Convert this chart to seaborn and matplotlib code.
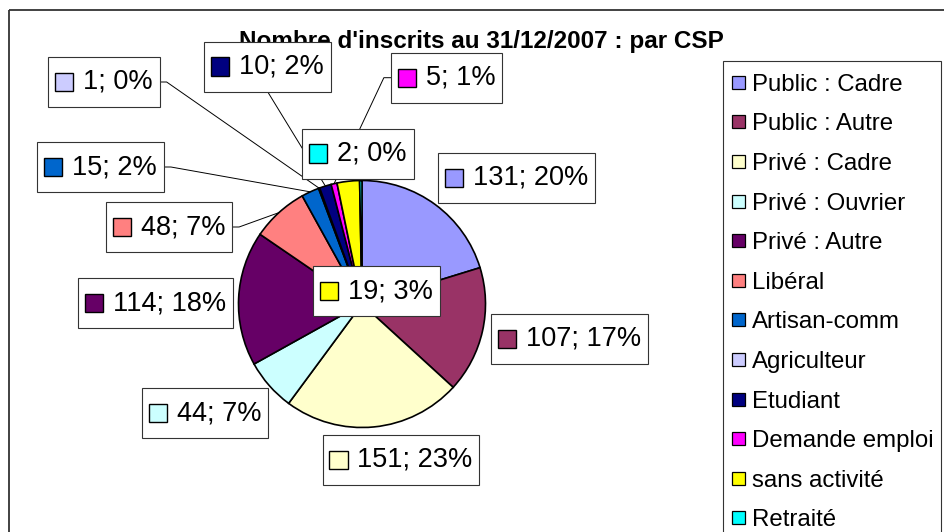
import matplotlib
matplotlib.use("Agg")
import matplotlib.pyplot as plt
import numpy as np
import seaborn as sns
from matplotlib.patches import Rectangle
from matplotlib.offsetbox import AnnotationBbox, HPacker, TextArea, DrawingArea

sns.set_theme(style="white")
plt.rcParams["font.family"] = ["Liberation Sans", "DejaVu Sans"]

# --- data -------------------------------------------------------------
title = "Nombre d'inscrits au 31/12/2007 : par CSP"
categories = ["Public : Cadre", "Public : Autre", "Privé : Cadre", "Privé : Ouvrier",
              "Privé : Autre", "Libéral", "Artisan-comm", "Agriculteur", "Etudiant",
              "Demande emploi", "sans activité", "Retraité"]
counts = [131, 107, 151, 44, 114, 48, 15, 1, 10, 5, 19, 2]
colors = ["#9999FF", "#993366", "#FFFFCC", "#CCFFFF", "#660066", "#FF8080",
          "#0066CC", "#CCCCFF", "#000080", "#FF00FF", "#FFFF00", "#00FFFF"]

# --- layout (pixel coordinates, origin top-left) -----------------------
W, H = 944, 532
pie_center = (362, 304)
pie_radius = 123.5
label_centers = [(516.5, 178), (569.5, 338.7), (401, 460), (205, 413),
                 (155.7, 303), (169, 227), (100.7, 167), (104, 82),
                 (267.5, 66.5), (446.5, 77.7), (376.5, 291), (358, 153.5)]
# side of the label box where a leader line leaves ("" = no leader)
leader_side = ["", "", "", "", "", "right", "right", "right", "bottom", "left", "", ""]


def Y(y):
    return H - y


fig = plt.figure(figsize=(W / 100, H / 100), dpi=100)
ax = fig.add_axes([0, 0, 1, 1])

palette = sns.color_palette(colors)
wedges, _ = ax.pie(counts, colors=palette, startangle=90, counterclock=False,
                   center=(pie_center[0], Y(pie_center[1])), radius=pie_radius,
                   frame=True,
                   wedgeprops=dict(edgecolor="black", linewidth=1.2))
ax.set_xlim(0, W)
ax.set_ylim(0, H)
ax.set_aspect("equal")
ax.axis("off")

# outer chart frame
ax.add_patch(Rectangle((8.5, Y(9.5)), 2000, -2000, fill=False,
                       edgecolor="#333333", lw=1.3, zorder=0.5))

# title
ax.text(481, Y(48.3), title, ha="center", va="baseline", fontsize=17.5,
        fontweight="bold", color="black", zorder=1)

# data labels with coloured key square
total = sum(counts)
boxes = []
anchors = []
for i, (w, v) in enumerate(zip(wedges, counts)):
    pct = int(round(100 * v / total))
    da = DrawingArea(13, 26, 0, 0)
    da.add_artist(Rectangle((0, 6.5), 13, 13, facecolor=palette[i],
                            edgecolor="black", lw=1.0))
    ta = TextArea(f"{v}; {pct}%", textprops=dict(fontsize=19.5, color="black"))
    box = HPacker(children=[da, ta], align="center", pad=0, sep=7)
    mid = np.deg2rad((w.theta1 + w.theta2) / 2)
    xy = (w.center[0] + w.r * np.cos(mid), w.center[1] + w.r * np.sin(mid))
    cx, cy = label_centers[i]
    ab = AnnotationBbox(box, xy, xybox=(cx, Y(cy)), xycoords="data",
                        boxcoords="data", pad=0.5, fontsize=10,
                        bboxprops=dict(facecolor="white", edgecolor="#333333", lw=0.8),
                        zorder=4 if i != 11 else 5)
    ax.add_artist(ab)
    boxes.append(ab)
    anchors.append(xy)

# leader lines from the label boxes to their slices
fig.canvas.draw()
inv = ax.transData.inverted()
for ab, xy, side in zip(boxes, anchors, leader_side):
    if not side:
        continue
    bb = ab.patch.get_window_extent()
    (x0, y0), (x1, y1) = inv.transform([(bb.x0, bb.y0), (bb.x1, bb.y1)])
    ym = (y0 + y1) / 2
    if side == "right":
        pts = [(x1, ym), (x1 + 7, ym), xy]
    elif side == "left":
        pts = [(x0, ym), (x0 - 7, ym), xy]
    else:
        pts = [((x0 + x1) / 2, y0), xy]
    xs, ys = zip(*pts)
    ax.plot(xs, ys, color="black", lw=0.7, zorder=3)

# legend panel
ax.add_patch(Rectangle((723, Y(61)), 218, -600, facecolor="white",
                       edgecolor="#333333", lw=0.8, zorder=2))
for i, (name, col) in enumerate(zip(categories, palette)):
    yc = 82.3 + 39.6 * i
    ax.add_patch(Rectangle((731.5, Y(yc) - 6.5), 13, 13, facecolor=col,
                           edgecolor="black", lw=0.9, zorder=3))
    ax.text(752, Y(yc + 8.5), name, ha="left", va="baseline", fontsize=17.3,
            color="black", zorder=3)

fig.savefig("out.png", dpi=100, facecolor="white")
